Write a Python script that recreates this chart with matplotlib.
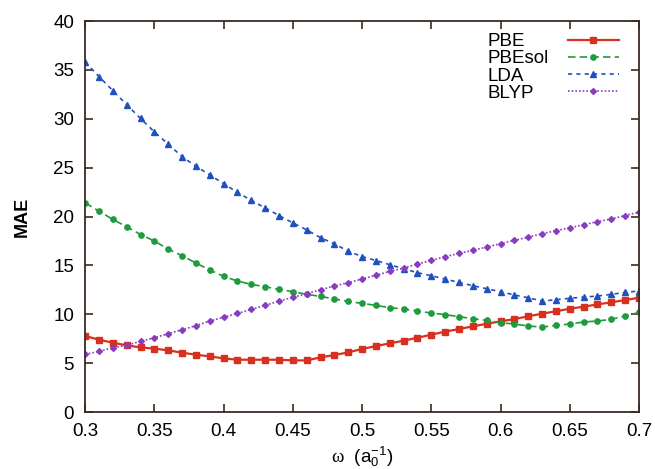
import numpy as np
import matplotlib
matplotlib.use("Agg")
import matplotlib.pyplot as plt

omega = [round(0.30 + 0.01 * i, 2) for i in range(41)]

pbe = [7.77, 7.40, 7.09, 6.82, 6.61, 6.48, 6.31, 6.07, 5.86, 5.69,
       5.49, 5.35, 5.35, 5.35, 5.35, 5.28, 5.28, 5.59, 5.83, 6.10,
       6.45, 6.75, 7.02, 7.30, 7.60, 7.91, 8.22, 8.49, 8.76, 9.03,
       9.27, 9.51, 9.79, 10.06, 10.30, 10.57, 10.77, 11.01, 11.22, 11.46,
       11.69]
pbesol = [21.40, 20.55, 19.70, 18.95, 18.16, 17.49, 16.67, 15.99, 15.24, 14.52,
          13.88, 13.40, 13.06, 12.82, 12.55, 12.31, 12.04, 11.83, 11.56, 11.32,
          11.11, 10.91, 10.67, 10.54, 10.33, 10.13, 9.96, 9.75, 9.55, 9.38,
          9.14, 9.00, 8.80, 8.69, 8.86, 9.00, 9.21, 9.31, 9.48, 9.82,
          10.19]
lda = [35.79, 34.32, 32.88, 31.44, 30.03, 28.66, 27.40, 26.13, 25.14, 24.25,
       23.36, 22.47, 21.64, 20.89, 20.10, 19.35, 18.63, 17.84, 17.20, 16.45,
       15.90, 15.50, 15.07, 14.66, 14.25, 13.94, 13.60, 13.26, 12.92, 12.61,
       12.31, 11.97, 11.69, 11.35, 11.49, 11.63, 11.76, 11.86, 12.04, 12.24,
       12.38]
blyp = [5.90, 6.20, 6.58, 6.82, 7.23, 7.60, 8.01, 8.42, 8.83, 9.31,
        9.68, 10.09, 10.50, 10.91, 11.35, 11.73, 12.10, 12.51, 12.89, 13.23,
        13.60, 13.98, 14.39, 14.73, 15.14, 15.51, 15.89, 16.23, 16.54, 16.88,
        17.22, 17.56, 17.90, 18.24, 18.55, 18.85, 19.16, 19.47, 19.76, 20.10,
        20.45]

xticks = [0.3, 0.35, 0.4, 0.45, 0.5, 0.55, 0.6, 0.65, 0.7]
xticklabels = ["0.3", "0.35", "0.4", "0.45", "0.5", "0.55", "0.6", "0.65", "0.7"]
yticks = [0, 5, 10, 15, 20, 25, 30, 35, 40]

plt.rcParams['font.family'] = ['Liberation Sans', 'DejaVu Sans']
plt.rcParams['mathtext.fontset'] = 'custom'
plt.rcParams['mathtext.rm'] = 'Liberation Serif'
plt.rcParams['mathtext.it'] = 'Liberation Serif:italic'
plt.rcParams['mathtext.sf'] = 'Liberation Sans'

fig = plt.figure(figsize=(6.55, 4.69), dpi=100)
ax = fig.add_axes([0.130, 0.1215, 0.8456, 0.8337])

ax.plot(omega, pbe, color='#d8301f', ls='-', lw=1.6, marker='s', ms=3.8, label='PBE')
ax.plot(omega, pbesol, color='#1f9a3c', ls=(0, (4.5, 2.5)), lw=1.2, marker='o', ms=3.8, label='PBEsol')
ax.plot(omega, lda, color='#2050c0', ls=(0, (2.5, 2.5)), lw=1.2, marker='^', ms=4.0, label='LDA')
ax.plot(omega, blyp, color='#8a3cc0', ls=(0, (1, 1.2)), lw=1.2, marker='D', ms=3.0, label='BLYP')

ax.set_xlim(0.3, 0.7)
ax.set_ylim(0, 40)
ax.set_xticks(xticks)
ax.set_xticklabels(xticklabels)
ax.set_yticks(yticks)
ax.tick_params(direction='in', length=6, width=1.2, top=True, right=True,
               labelsize=13.5, colors='#3a2a22', labelcolor='black')
ax.tick_params(axis='y', pad=8)
ax.tick_params(axis='x', pad=8)
for s in ax.spines.values():
    s.set_color('#3a2a22')
    s.set_linewidth(1.3)

ax.set_xlabel(r'$\mathrm{\omega}$  (a$_\mathsf{0}^\mathsf{-1}$)', fontsize=13.5, labelpad=3)
ax.set_ylabel('MAE', fontsize=13, fontweight='bold', labelpad=16)

leg = ax.legend(loc='upper right', bbox_to_anchor=(0.985, 1.0), frameon=False,
                markerfirst=False, fontsize=13.5, handlelength=2.7,
                labelspacing=0.0, handletextpad=1.0, borderaxespad=0.25)

# left-justify legend labels (gnuplot style)
fig.canvas.draw()
renderer = fig.canvas.get_renderer()
texts = leg.get_texts()
bbs = [t.get_window_extent(renderer) for t in texts]
left = min(b.x0 for b in bbs)
for t, b in zip(texts, bbs):
    fig.text(left, b.y0, t.get_text(), transform=None, ha='left', va='bottom',
             fontsize=13.5)
    t.set_alpha(0)

fig.savefig('out.png', dpi=100)
